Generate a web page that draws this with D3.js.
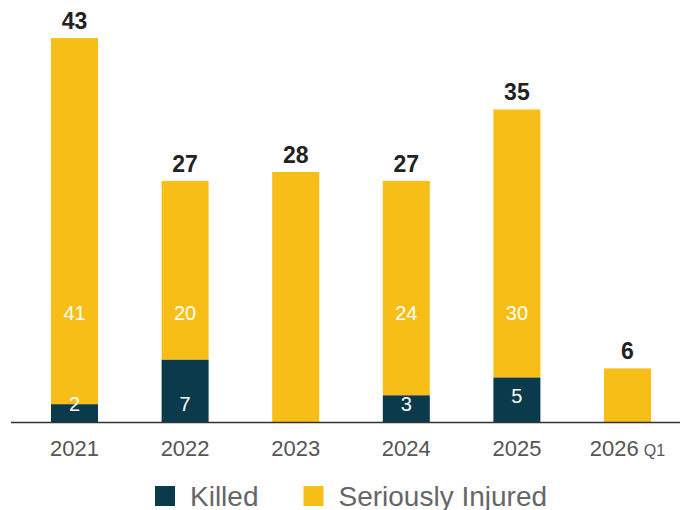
<!DOCTYPE html>
<html>
<head>
<meta charset="utf-8">
<script src="https://cdn.jsdelivr.net/npm/d3@7"></script>
<style>
  html, body { margin: 0; padding: 0; background: #fff; }
  svg { display: block; font-family: "Liberation Sans", Arial, Helvetica, sans-serif; }
</style>
</head>
<body>
<div id="chart-container"></div>
<script>
// chart values
const years = ["2021", "2022", "2023", "2024", "2025", "2026"];
const yearSuffix = ["", "", "", "", "", "Q1"];
const killed = [2, 7, 0, 3, 5, 0];
const injured = [41, 20, 28, 24, 30, 6];
const seriesNames = ["Killed", "Seriously Injured"];
const seriesColors = ["#0b3a4d", "#f7be17"];

const width = 686;
const height = 510;

const data = years.map((year, i) => ({
    year: year,
    suffix: yearSuffix[i],
    killed: killed[i],
    injured: injured[i],
    total: killed[i] + injured[i]
}));

const x = d3.scaleBand()
    .domain(years)
    .range([19.2, 682.8])
    .paddingInner(0.575)
    .paddingOuter(0.2875);

const y = d3.scaleLinear()
    .domain([0, d3.max(data, d => d.total)])
    .range([422, 38]);

const svg = d3.select("#chart-container").append("svg")
    .attr("width", width)
    .attr("height", height)
    .attr("viewBox", `0 0 ${width} ${height}`);

const stack = d3.stack().keys(["killed", "injured"]);
const series = stack(data);

svg.append("g")
    .selectAll("g")
    .data(series)
    .join("g")
    .attr("fill", (d, i) => seriesColors[i])
    .selectAll("rect")
    .data(d => d)
    .join("rect")
    .attr("x", d => x(d.data.year))
    .attr("y", d => y(d[1]))
    .attr("width", x.bandwidth())
    .attr("height", d => y(d[0]) - y(d[1]));

// baseline axis
const axis = svg.append("g")
    .attr("transform", `translate(0,${y(0)})`)
    .call(d3.axisBottom(x).tickSize(0).tickPadding(0).tickFormat(""));
axis.select(".domain").remove();
axis.append("line")
    .attr("x1", 11).attr("x2", 680)
    .attr("y1", 0.5).attr("y2", 0.5)
    .attr("stroke", "#333")
    .attr("stroke-width", 1.6);

const tickText = axis.selectAll(".tick")
    .append("text")
    .attr("y", 34)
    .attr("fill", "#555")
    .attr("text-anchor", "middle")
    .style("font-size", "22px");
tickText.append("tspan").text(d => d);
tickText.filter((d, i) => yearSuffix[i])
    .append("tspan")
    .attr("dx", 5)
    .style("font-size", "16px")
    .text((d) => yearSuffix[years.indexOf(d)]);

// totals on top
svg.append("g")
    .selectAll("text")
    .data(data)
    .join("text")
    .attr("x", d => x(d.year) + x.bandwidth() / 2)
    .attr("y", d => y(d.total) - 9)
    .attr("text-anchor", "middle")
    .attr("fill", "#222")
    .style("font-size", "23px")
    .style("font-weight", "bold")
    .text(d => d.total);

// injured labels (only when killed is shown as well)
svg.append("g")
    .selectAll("text")
    .data(data.filter(d => d.killed > 0))
    .join("text")
    .attr("x", d => x(d.year) + x.bandwidth() / 2)
    .attr("y", y(12.2))
    .attr("dy", "0.35em")
    .attr("text-anchor", "middle")
    .attr("fill", "#fff")
    .style("font-size", "20px")
    .text(d => d.injured);

// killed labels
svg.append("g")
    .selectAll("text")
    .data(data.filter(d => d.killed > 0))
    .join("text")
    .attr("x", d => x(d.year) + x.bandwidth() / 2)
    .attr("y", d => d.killed === 5 ? y(0) - 19 : y(0) - 11)
    .attr("text-anchor", "middle")
    .attr("fill", "#fff")
    .style("font-size", "20px")
    .text(d => d.killed);

// legend
const legend = svg.append("g").attr("transform", "translate(155,486)");
let lx = 0;
seriesNames.forEach((name, i) => {
    const item = legend.append("g").attr("transform", `translate(${lx},0)`);
    item.append("rect")
        .attr("width", 20).attr("height", 20)
        .attr("fill", seriesColors[i]);
    const t = item.append("text")
        .attr("x", 35)
        .attr("y", 19.5)
        .attr("fill", "#666")
        .style("font-size", "28px")
        .text(name);
    lx += 35 + t.node().getComputedTextLength() + 45;
});
</script>
</body>
</html>
